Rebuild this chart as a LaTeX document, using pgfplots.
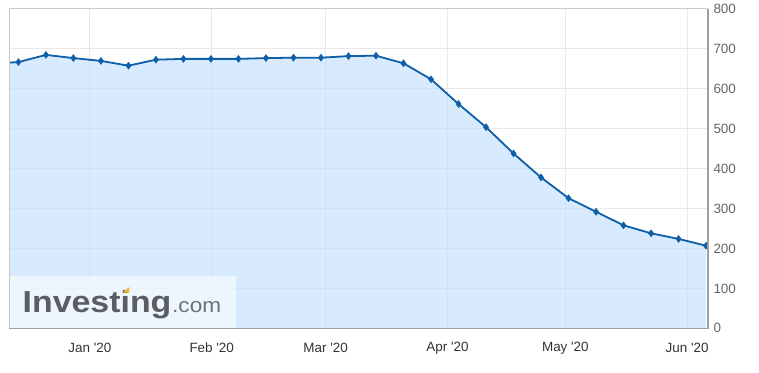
\documentclass[border=0pt]{standalone}
\usepackage{pgfplots}
\pgfplotsset{compat=1.18}
\usepackage{fontspec}
\setmainfont{Liberation Sans}
\definecolor{lineblue}{RGB}{14,94,168}
\definecolor{fillblue}{RGB}{194,222,252}
\definecolor{gridgray}{RGB}{232,232,232}
\definecolor{ticktext}{RGB}{102,102,102}
\definecolor{monthtext}{RGB}{51,51,51}
\definecolor{framelight}{RGB}{200,200,200}
\definecolor{framedark}{RGB}{160,160,160}
\definecolor{logogray}{RGB}{90,93,97}
\definecolor{logolight}{RGB}{110,113,117}
\definecolor{logoyellow}{RGB}{245,181,46}
\begin{document}
\begin{tikzpicture}[x=1bp,y=1bp]
\path[use as bounding box] (0,0) rectangle (759,372);
\begin{axis}[
  at={(9bp,43.7bp)}, anchor=south west,
  scale only axis, width=699bp, height=319.3bp,
  xmin=-20.6, xmax=157.3, ymin=0, ymax=800,
  axis line style={draw=none},
  ytick={0,100,...,800},
  yticklabel pos=right,
  xtick={0,31,60,91,121,152},
  xticklabels={Jan \textquotesingle20, Feb \textquotesingle20, Mar \textquotesingle20, Apr \textquotesingle20, May \textquotesingle20, Jun \textquotesingle20},
  major tick length=0pt,
  grid=major,
  major grid style={draw=gridgray, line width=1bp},
  /pgf/number format/assume math mode=true,
  yticklabel style={font=\fontsize{13.5}{13.5}\selectfont, text=ticktext, anchor=west, inner sep=0pt, xshift=5.3bp},
  xticklabel style={font=\fontsize{13.5}{13.5}\selectfont, text=monthtext, anchor=center, inner sep=0pt, yshift=-19.5bp},
  clip marker paths=false,
]
\addplot[draw=none, fill=fillblue, fill opacity=0.64] coordinates {
(-25.2,663) (-18.2,667) (-11.2,685) (-4.2,677) (2.8,670) (9.8,658) (16.8,673) (23.8,675)
(30.8,675) (37.8,675) (44.8,677) (51.8,678) (58.8,678) (65.8,682) (72.8,683)
(79.8,664) (86.8,624) (93.8,562) (100.8,504) (107.8,438) (114.8,378)
(121.8,326) (128.8,292) (135.8,258) (142.8,238) (149.8,224) (156.8,207)
} \closedcycle;
\addplot[color=lineblue, line width=1.8bp, mark=diamond*, mark size=3.4bp, mark options={fill=lineblue, line width=0.6bp}] coordinates {
(-25.2,663) (-18.2,667) (-11.2,685) (-4.2,677) (2.8,670) (9.8,658) (16.8,673) (23.8,675)
(30.8,675) (37.8,675) (44.8,677) (51.8,678) (58.8,678) (65.8,682) (72.8,683)
(79.8,664) (86.8,624) (93.8,562) (100.8,504) (107.8,438) (114.8,378)
(121.8,326) (128.8,292) (135.8,258) (142.8,238) (149.8,224) (156.8,207)
};
\end{axis}
% frame
\draw[framelight, line width=1bp] (9,43.7) -- (9,363) -- (708,363);
\draw[framedark, line width=1.2bp] (9,43.7) -- (708,43.7) -- (708,363);
% watermark
\fill[white, fill opacity=0.55] (9.5,44.3) rectangle (236,96);
\node[anchor=base west, inner sep=0pt, text=logogray] at (22.5,59.5)
  {\scalebox{1.115}[1]{\fontsize{30.5}{30.5}\selectfont\bfseries Investing}};
\node[anchor=base west, inner sep=0pt, text=logolight] at (172,59.5)
  {\scalebox{1.1}[1]{\fontsize{20.6}{20.6}\selectfont .com}};
\fill[logoyellow] (123.3,80) -- (129.3,85) -- (129.3,79.5) -- (123.3,79.5) -- cycle;
\end{tikzpicture}
\end{document}
